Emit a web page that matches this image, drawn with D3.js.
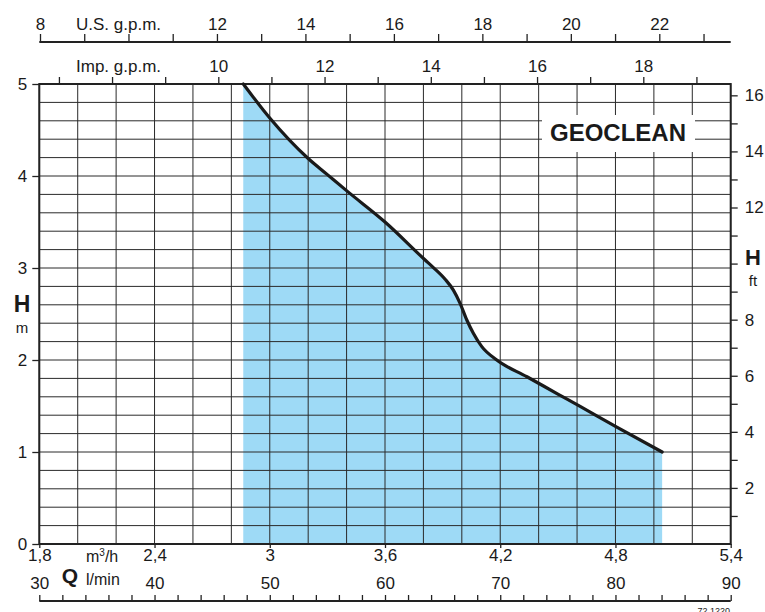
<!DOCTYPE html>
<html>
<head>
<meta charset="utf-8">
<script src="https://cdn.jsdelivr.net/npm/d3@7"></script>
<style>
  body { margin: 0; background: #fff; }
  svg { display: block; font-family: "Liberation Sans", Arial, sans-serif; }
</style>
</head>
<body>
<svg id="chart"></svg>
<script>
// pump curve
const flowM3h = [2.862, 3.0, 3.2, 3.3, 3.406, 3.6, 3.809, 3.852, 3.913, 3.956, 3.991, 4.026, 4.06, 4.104, 4.182, 4.339, 4.5, 4.616, 4.807, 5.043];
const headM   = [5.0, 4.63, 4.19, 4.015, 3.83, 3.5, 3.087, 3.005, 2.878, 2.76, 2.616, 2.435, 2.29, 2.145, 2.0, 1.818, 1.63, 1.495, 1.27, 1.0];

const m3hTicks = [1.8, 2.4, 3, 3.6, 4.2, 4.8, 5.4];
const m3hLabels = ["1,8", "2,4", "3", "3,6", "4,2", "4,8", "5,4"];
const lminTicks = d3.range(30, 91, 2);
const lminLabels = [30, 40, 50, 60, 70, 80, 90];
const usTicks = d3.range(8, 24);
const usLabels = [8, 12, 14, 16, 18, 20, 22];
const impTicks = d3.range(7, 20);
const impLabels = [10, 12, 14, 16, 18];
const headTicks = [0, 1, 2, 3, 4, 5];
const ftTicks = d3.range(1, 17);
const ftLabels = [2, 4, 6, 8, 12, 14, 16];   // 10 ft is where the "H ft" title sits
const gridQ = d3.range(1.8, 5.41, 0.2);
const gridH = d3.range(0, 5.01, 0.2);

const W = 765, H = 612;
const ink = "#222";

const svg = d3.select("#chart").attr("width", W).attr("height", H);

// scales
const x = d3.scaleLinear().domain([1.8, 5.4]).range([39.3, 730.7]);
const y = d3.scaleLinear().domain([0, 5]).range([544, 84]);
const yFt = d3.scaleLinear().domain([0, 5 / 0.3048]).range([544, 84]);
const xL = d3.scaleLinear().domain([30, 90]).range([39.3, 730.7]);
const xUS = d3.scaleLinear().domain([8, 22]).range([40, 659.3]);
const xImp = d3.scaleLinear().domain([10, 18]).range([218.3, 643.3]);

// blue area under the curve
const pts = flowM3h.map((q, i) => [q, headM[i]]);
svg.append("path")
  .datum(pts)
  .attr("fill", "#9edaf6")
  .attr("d", d3.area().x(d => x(d[0])).y0(y(0)).y1(d => y(d[1])).curve(d3.curveMonotoneX));

// grid
svg.append("g").selectAll("line").data(gridQ).join("line")
  .attr("x1", d => x(d)).attr("x2", d => x(d))
  .attr("y1", y(0)).attr("y2", y(5))
  .attr("stroke", "#2a2a2a").attr("stroke-width", 1);
svg.append("g").selectAll("line").data(gridH).join("line")
  .attr("x1", x(1.8)).attr("x2", x(5.4))
  .attr("y1", d => y(d)).attr("y2", d => y(d))
  .attr("stroke", "#2a2a2a").attr("stroke-width", 1);

// frame
svg.append("rect")
  .attr("x", x(1.8)).attr("y", y(5))
  .attr("width", x(5.4) - x(1.8)).attr("height", y(0) - y(5))
  .attr("fill", "none").attr("stroke", ink).attr("stroke-width", 2);

// curve
svg.append("path")
  .datum(pts)
  .attr("fill", "none")
  .attr("stroke", "#1a1a1a")
  .attr("stroke-width", 3.2)
  .attr("stroke-linecap", "round")
  .attr("d", d3.line().x(d => x(d[0])).y(d => y(d[1])).curve(d3.curveMonotoneX));

// title box
svg.append("rect").attr("x", 542).attr("y", 115).attr("width", 153).attr("height", 37).attr("fill", "#fff");
svg.append("text").attr("x", 618).attr("y", 141)
  .attr("text-anchor", "middle").attr("font-size", 24).attr("font-weight", "bold").attr("fill", "#1a1a1a")
  .text("GEOCLEAN");

function style(g) {
  g.selectAll(".domain").remove();
  g.selectAll(".tick line").attr("stroke", ink).attr("stroke-width", 1.3);
  g.selectAll(".tick text").attr("fill", "#1a1a1a").attr("font-size", 17).attr("font-family", null);
}

// left axis (m)
svg.append("g").attr("transform", `translate(${x(1.8)},0)`)
  .call(d3.axisLeft(y).tickValues(headTicks).tickSize(7).tickPadding(5).tickFormat(d3.format("d")))
  .call(style);

// right axis (ft)
svg.append("g").attr("transform", `translate(${x(5.4)},0)`)
  .call(d3.axisRight(yFt).tickValues(ftTicks).tickSize(7).tickPadding(7)
    .tickFormat(d => ftLabels.includes(d) ? d : ""))
  .call(style);

// bottom axis (m3/h)
svg.append("g").attr("transform", `translate(0,${y(0)})`)
  .call(d3.axisBottom(x).tickValues(m3hTicks).tickSize(4)
    .tickFormat((d, i) => m3hLabels[i]))
  .call(style)
  .call(g => g.selectAll(".tick text").attr("y", 17).attr("dy", null));

// l/min axis
const gL = svg.append("g").attr("transform", "translate(0,601)");
gL.call(d3.axisTop(xL).tickValues(lminTicks).tickSize(6)
    .tickFormat(d => lminLabels.includes(d) ? d : ""))
  .call(style)
  .call(g => g.selectAll(".tick text").attr("y", -12).attr("dy", null));
gL.append("line").attr("x1", xL(30)).attr("x2", xL(90)).attr("stroke", ink).attr("stroke-width", 2);

// U.S. g.p.m. axis
const gUS = svg.append("g").attr("transform", "translate(0,42)");
gUS.call(d3.axisTop(xUS).tickValues(usTicks).tickSize(8).tickPadding(3)
    .tickFormat(d => usLabels.includes(d) ? d : ""))
  .call(style)
  .call(g => g.selectAll(".tick text").attr("y", -12).attr("dy", null));
gUS.append("line").attr("x1", x(1.8)).attr("x2", x(5.4)).attr("stroke", ink).attr("stroke-width", 2);

// Imp. g.p.m. axis (on the frame top)
svg.append("g").attr("transform", `translate(0,${y(5)})`)
  .call(d3.axisTop(xImp).tickValues(impTicks).tickSize(7)
    .tickFormat(d => impLabels.includes(d) ? d : ""))
  .call(style)
  .call(g => g.selectAll(".tick text").attr("y", -12).attr("dy", null));

// unit labels
const lab = (tx, ty, t, size, bold, anchor) => svg.append("text")
  .attr("x", tx).attr("y", ty).attr("font-size", size)
  .attr("font-weight", bold ? "bold" : null)
  .attr("text-anchor", anchor || "start").attr("fill", "#1a1a1a").text(t);

lab(76, 30, "U.S. g.p.m.", 17);
lab(76, 72, "Imp. g.p.m.", 17);
lab(22, 312, "H", 23, true, "middle");
lab(22, 333, "m", 15, false, "middle");
lab(753, 265, "H", 22, true, "middle");
lab(753, 286, "ft", 15, false, "middle");
lab(70, 583, "Q", 21, true, "middle");
const m3 = lab(86, 562, "m", 16);
m3.append("tspan").attr("font-size", 10).attr("dy", -6).text("3");
m3.append("tspan").attr("dy", 6).text("/h");
lab(86, 585, "l/min", 16);
lab(730, 614, "72.1220", 9, false, "end");
</script>
</body>
</html>
